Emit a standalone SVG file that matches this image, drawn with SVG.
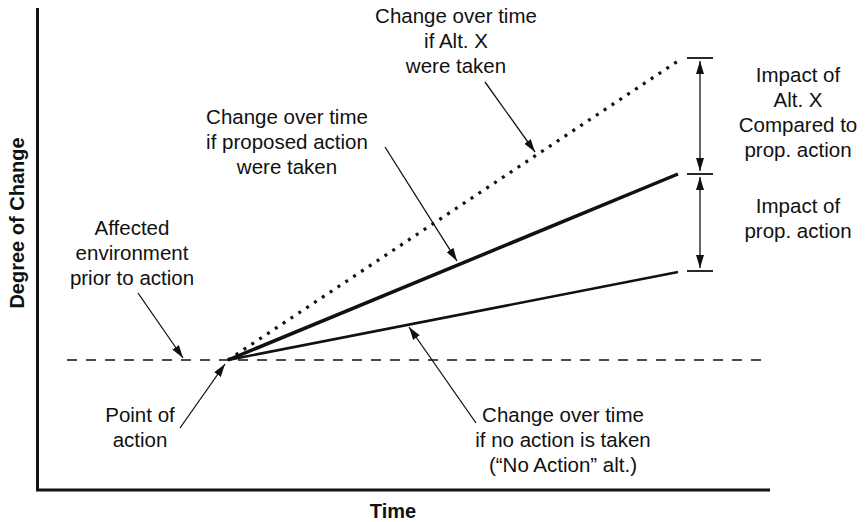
<svg xmlns="http://www.w3.org/2000/svg" width="865" height="522" viewBox="0 0 865 522">
<style>
text{font-family:"Liberation Sans",Arial,sans-serif;font-size:20.5px;fill:#111;text-anchor:middle}
.b{font-weight:bold;font-size:20px}
.axis{stroke:#111;stroke-width:3;fill:none}
.lead{stroke:#111;stroke-width:1.3;fill:none;marker-end:url(#ah)}
.tick{stroke:#111;stroke-width:1.8}
</style>
<defs>
<marker id="ah" viewBox="0 0 13 8" refX="13" refY="4" markerWidth="13" markerHeight="8" markerUnits="userSpaceOnUse" orient="auto">
<path d="M0,0 L13,4 L0,8 Z" fill="#111"/>
</marker>
</defs>
<g id="axes">
<path class="axis" d="M37.5,8 V490 H770"/>
<text class="b" transform="translate(24,223) rotate(-90)">Degree of Change</text>
<text class="b" x="393" y="518">Time</text>
</g>
<g id="baseline">
<line x1="67" y1="360" x2="768" y2="360" stroke="#111" stroke-width="1.4" stroke-dasharray="10 9"/>
</g>
<g id="lines">
<line x1="228" y1="360" x2="678" y2="61" stroke="#111" stroke-width="3.2" stroke-dasharray="3 6.4"/>
<line x1="228" y1="360" x2="678" y2="174" stroke="#111" stroke-width="3.5"/>
<line x1="228" y1="360" x2="678" y2="272" stroke="#111" stroke-width="2.6"/>
</g>
<g id="brackets">
<line class="tick" x1="687" y1="58" x2="713" y2="58"/>
<line class="tick" x1="687" y1="174" x2="713" y2="174"/>
<line class="tick" x1="687" y1="271" x2="713" y2="271"/>
<line class="lead" x1="700" y1="116" x2="700" y2="61"/>
<line class="lead" x1="700" y1="116" x2="700" y2="171"/>
<line class="lead" x1="700" y1="222" x2="700" y2="177"/>
<line class="lead" x1="700" y1="222" x2="700" y2="268"/>
</g>
<g id="connectors">
<line class="lead" x1="485" y1="82" x2="535" y2="152"/>
<line class="lead" x1="385" y1="147" x2="457" y2="261"/>
<line class="lead" x1="138" y1="293" x2="183" y2="358"/>
<line class="lead" x1="180" y1="428" x2="225" y2="364"/>
<line class="lead" x1="476" y1="423" x2="409" y2="327"/>
</g>
<g id="label-altx">
<text x="456" y="23">Change over time</text>
<text x="456" y="48">if Alt. X</text>
<text x="456" y="73">were taken</text>
</g>
<g id="label-proposed">
<text x="287" y="124">Change over time</text>
<text x="287" y="149">if proposed action</text>
<text x="287" y="174">were taken</text>
</g>
<g id="label-affected">
<text x="132" y="235">Affected</text>
<text x="132" y="260">environment</text>
<text x="132" y="285">prior to action</text>
</g>
<g id="label-point">
<text x="140" y="422">Point of</text>
<text x="140" y="447">action</text>
</g>
<g id="label-noaction">
<text x="563" y="422">Change over time</text>
<text x="563" y="447">if no action is taken</text>
<text x="563" y="472">(“No Action” alt.)</text>
</g>
<g id="label-impact-altx">
<text x="798" y="82">Impact of</text>
<text x="798" y="107">Alt. X</text>
<text x="798" y="132">Compared to</text>
<text x="798" y="157">prop. action</text>
</g>
<g id="label-impact-prop">
<text x="798" y="213">Impact of</text>
<text x="798" y="238">prop. action</text>
</g>
</svg>
